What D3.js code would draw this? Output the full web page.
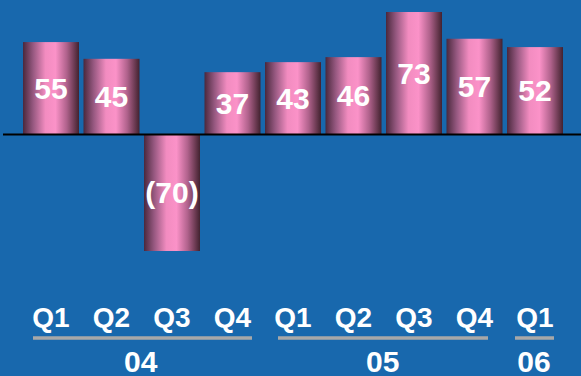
<!DOCTYPE html>
<html>
<head>
<meta charset="utf-8">
<script src="https://cdn.jsdelivr.net/npm/d3@7"></script>
<style>
  html, body { margin: 0; padding: 0; background: #1868ad; }
  svg { display: block; }
</style>
</head>
<body>
<svg id="chart" width="581" height="376"></svg>
<script>
// Quarterly results, 2004 Q1 – 2006 Q1
const quarters = ["Q1", "Q2", "Q3", "Q4", "Q1", "Q2", "Q3", "Q4", "Q1"];
const values   = [55, 45, -70, 37, 43, 46, 73, 57, 52];
const years    = ["04", "05", "06"];
const yearSpan = [[0, 3], [4, 7], [8, 8]];   // first and last quarter index of each year

const W = 581, H = 376;
const svg = d3.select("#chart");

// how far each year rule reaches past its outer quarter centres (left, right)
const ruleOverhang = [[18, 19.5], [15, 13.5], [20, 19]];

const step = 60.5, pad = 4.5 / step;
const x = d3.scaleBand()
  .domain(d3.range(values.length))
  .range([20.75, 20.75 + step * values.length])
  .paddingInner(pad)
  .paddingOuter(pad / 2);

const y = d3.scaleLinear()
  .domain([-70, 73])
  .range([251, 12]);

// cylinder-like shading across each bar
const defs = svg.append("defs");
const grad = defs.append("linearGradient")
  .attr("id", "barShade")
  .attr("x1", "0%").attr("x2", "100%")
  .attr("y1", "0%").attr("y2", "0%");
[
  [0.00, "#4a283c"],
  [0.18, "#965880"],
  [0.40, "#f28cc0"],
  [0.58, "#fb92c8"],
  [0.78, "#b0628c"],
  [1.00, "#42222f"]
].forEach(([o, c]) => grad.append("stop").attr("offset", o).attr("stop-color", c));

const bars = svg.append("g");
bars.selectAll("rect")
  .data(values)
  .join("rect")
  .attr("x", (d, i) => x(i))
  .attr("width", x.bandwidth())
  .attr("y", d => y(Math.max(0, d)))
  .attr("height", d => Math.abs(y(d) - y(0)))
  .attr("fill", "url(#barShade)");

// zero line
svg.append("line")
  .attr("x1", 3).attr("x2", W)
  .attr("y1", y(0) + 0.5).attr("y2", y(0) + 0.5)
  .attr("stroke", "#000")
  .attr("stroke-width", 2);

// value labels, negatives in parentheses
svg.append("g").selectAll("text")
  .data(values)
  .join("text")
  .attr("x", (d, i) => x(i) + x.bandwidth() / 2)
  .attr("y", d => (y(Math.max(0, d)) + y(Math.min(0, d))) / 2)
  .attr("dy", "0.36em")
  .attr("text-anchor", "middle")
  .attr("fill", "#fff")
  .attr("font-family", "Liberation Sans, Arial, sans-serif")
  .attr("font-weight", "bold")
  .attr("font-size", 30)
  .text(d => d < 0 ? `(${-d})` : d);

// quarter labels
const cx = i => x(i) + x.bandwidth() / 2;
svg.append("g").selectAll("text")
  .data(quarters)
  .join("text")
  .attr("x", (d, i) => cx(i))
  .attr("y", 327)
  .attr("text-anchor", "middle")
  .attr("fill", "#fff")
  .attr("font-family", "Liberation Sans, Arial, sans-serif")
  .attr("font-weight", "bold")
  .attr("font-size", 28)
  .text(d => d);

// year rules and labels
const yearG = svg.append("g");
yearG.selectAll("line")
  .data(yearSpan)
  .join("line")
  .attr("x1", (d, i) => cx(d[0]) - ruleOverhang[i][0])
  .attr("x2", (d, i) => cx(d[1]) + ruleOverhang[i][1])
  .attr("y1", 338).attr("y2", 338)
  .attr("stroke", "#a8a8a8")
  .attr("stroke-width", 3.5);

yearG.selectAll("text")
  .data(years)
  .join("text")
  .attr("x", (d, i) => (cx(yearSpan[i][0]) + cx(yearSpan[i][1])) / 2 - 1)
  .attr("y", 372)
  .attr("text-anchor", "middle")
  .attr("fill", "#fff")
  .attr("font-family", "Liberation Sans, Arial, sans-serif")
  .attr("font-weight", "bold")
  .attr("font-size", 30)
  .text(d => d);
</script>
</body>
</html>
